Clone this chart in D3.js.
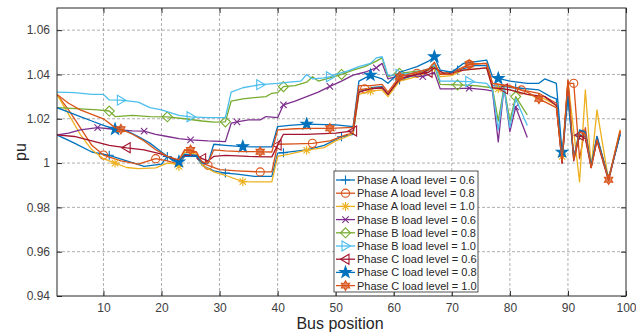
<!DOCTYPE html>
<html>
<head>
<meta charset="utf-8">
<script src="https://cdn.jsdelivr.net/npm/d3@7"></script>
<style>
body { margin: 0; background: #fff; }
svg { display: block; font-family: "Liberation Sans", Arial, Helvetica, sans-serif; }
</style>
</head>
<body>
<svg id="chart" width="636" height="335"></svg>
<script>
const xTicks = [10, 20, 30, 40, 50, 60, 70, 80, 90, 100];
const yTicks = [0.94, 0.96, 0.98, 1.00, 1.02, 1.04, 1.06];

const legendLabels = [
  "Phase A load level = 0.6", "Phase A load level = 0.8", "Phase A load level = 1.0",
  "Phase B load level = 0.6", "Phase B load level = 0.8", "Phase B load level = 1.0",
  "Phase C load level = 0.6", "Phase C load level = 0.8", "Phase C load level = 1.0"
];

// phase A
const busA06 = [2,5,8,11,14,17,20,21,23,24,26,27,29,31,33,36,39,40,41,45,48,51,53,54,56,58,59,61,64,66,67,68,71,74,76,77,81,85,87,88,89,90,91,92,93,94,95,97,99];
const puA06 = [1.0127,1.009,1.005,1.0035,1.001,0.9985,0.9995,1.003,1.000,1.003,1.003,0.999,0.9965,0.9955,0.995,0.994,0.994,1.0045,1.0047,1.006,1.008,1.0119,1.013,1.032,1.034,1.0345,1.031,1.0375,1.040,1.042,1.0445,1.040,1.042,1.044,1.044,1.035,1.034,1.033,1.030,1.029,1.002,1.030,1.003,1.0126,1.012,0.999,1.011,0.993,1.013];
const markA06 = [11,21,31,41,51,61,71,81,92];

const busA08 = [2,4,6,8,10,13,16,19,21,23,24,26,27,28,30,33,37,39,40,43,46,49,52,53,54,55,58,59,61,64,66,67,68,70,73,76,77,80,82,85,88,89,90,91,92,93,94,95,97,99];
const puA08 = [1.031,1.024,1.016,1.008,1.0036,1.001,0.9995,1.002,1.001,0.9995,1.006,1.005,1.000,0.999,0.997,0.9965,0.996,0.996,1.0085,1.0087,1.0089,1.010,1.013,1.0135,1.033,1.0335,1.034,1.031,1.038,1.0405,1.042,1.045,1.0405,1.041,1.0446,1.045,1.036,1.035,1.033,1.0315,1.027,1.000,1.036,1.036,1.002,1.016,0.998,1.012,0.993,1.015];
const markA08 = [10,19,28,37,46,55,64,73,82,91];

const busA10 = [2,4,6,8,10,12,14,16,19,21,22,23,24,26,27,29,31,34,36,39,40,42,45,48,50,52,53,54,56,58,59,61,64,66,67,68,70,72,76,77,78,80,83,86,88,89,90,92,93,94,95,97,99];
const puA10 = [1.031,1.022,1.013,1.006,1.002,1.000,0.998,0.9975,0.9978,1.000,0.9998,0.9985,1.005,1.004,0.999,0.996,0.9945,0.9916,0.9915,0.9915,1.003,1.004,1.0058,1.007,1.010,1.012,1.0135,1.031,1.0325,1.033,1.030,1.037,1.039,1.041,1.043,1.039,1.0395,1.042,1.043,1.034,1.0335,1.033,1.031,1.029,1.026,1.003,1.037,0.9915,1.033,0.998,1.024,0.9923,1.015];
const markA10 = [12,23,34,45,56,67,78,89];

// phase B
const busB06 = [2,4,6,9,11,13,15,17,19,21,23,25,28,31,32,33,35,37,38,40,41,43,45,47,49,51,53,55,57,58,59,61,63,65,67,68,70,73,76,77,78,79,80,81,83];
const puB06 = [1.0127,1.0135,1.015,1.016,1.0155,1.015,1.0145,1.0144,1.013,1.012,1.011,1.0105,1.010,1.0097,1.018,1.0186,1.0195,1.0195,1.021,1.0205,1.0263,1.028,1.030,1.032,1.0346,1.037,1.0397,1.041,1.043,1.045,1.038,1.0395,1.0395,1.039,1.041,1.0335,1.0335,1.0338,1.033,1.0325,1.0096,1.0345,1.0142,1.0253,1.0115];
const markB06 = [9,17,25,33,41,49,57,65,73,81];

const busB08 = [2,6,9,11,12,15,18,21,24,27,29,31,32,34,36,38,39,40,41,43,45,46,47,49,51,53,55,57,58,59,61,64,66,67,68,71,74,77,78,79,80,81,83];
const puB08 = [1.025,1.0245,1.024,1.0235,1.021,1.0215,1.021,1.0209,1.020,1.019,1.0185,1.0186,1.028,1.029,1.0295,1.030,1.0315,1.0318,1.0345,1.035,1.0365,1.039,1.037,1.0385,1.040,1.042,1.0435,1.046,1.0475,1.039,1.0405,1.0415,1.042,1.044,1.0355,1.0353,1.035,1.034,1.019,1.0345,1.019,1.030,1.0217];
const markB08 = [11,21,31,41,51,61,71,81];

const busB10 = [2,5,8,10,11,13,16,18,20,23,25,28,31,32,34,37,40,42,44,45,46,48,49,50,52,54,56,57,58,59,61,63,66,67,68,70,73,76,77,78,79,80,81,83];
const puB10 = [1.032,1.0318,1.031,1.031,1.0285,1.0284,1.0275,1.025,1.024,1.0215,1.0209,1.0205,1.0205,1.032,1.034,1.0354,1.036,1.0365,1.037,1.040,1.038,1.0385,1.039,1.040,1.0415,1.0435,1.045,1.0475,1.048,1.0395,1.040,1.0405,1.0425,1.0445,1.037,1.037,1.0368,1.036,1.033,1.015,1.034,1.016,1.029,1.017];
const markB10 = [13,25,37,49,61,73];

// phase C
const busC06 = [2,5,8,11,14,17,20,22,23,24,26,27,28,29,31,35,39,40,41,45,50,53,54,56,58,59,61,64,66,67,69,72,76,77,79,80,83,86,88,89,90,91,92,93,94,95,97,99];
const puC06 = [1.0127,1.012,1.010,1.008,1.0069,1.006,1.004,1.002,1.001,1.0035,1.0035,1.002,1.001,1.003,1.0035,1.003,1.0028,1.0081,1.013,1.013,1.0135,1.0145,1.032,1.0335,1.034,1.031,1.038,1.040,1.041,1.043,1.040,1.042,1.043,1.034,1.0335,1.033,1.031,1.030,1.026,1.000,1.037,1.001,1.0126,1.011,0.998,1.010,0.992,1.014];
const markC06 = [14,27,40,53,66,79,92];

const busC08 = [2,4,6,8,10,12,14,16,18,20,22,23,24,26,27,28,29,31,34,37,39,40,42,45,50,53,54,56,58,59,61,64,66,67,68,70,72,76,77,78,80,83,85,86,88,89,90,91,92,93,94,95,97,99];
const puC08 = [1.025,1.023,1.021,1.019,1.017,1.0153,1.0145,1.012,1.009,1.005,1.001,1.0006,1.004,1.0035,1.000,1.000,1.0085,1.008,1.0074,1.0073,1.0073,1.0165,1.017,1.0176,1.0172,1.0165,1.037,1.0397,1.038,1.036,1.041,1.0435,1.046,1.048,1.042,1.041,1.045,1.0465,1.039,1.0382,1.037,1.036,1.036,1.038,1.036,1.005,1.030,1.002,1.015,1.014,0.999,1.012,0.993,1.013];
const markC08 = [12,23,34,45,56,67,78,89];

const busC10 = [2,4,6,8,10,12,13,15,17,19,21,23,24,25,26,27,28,29,31,34,37,39,40,43,46,49,52,53,54,56,58,59,61,64,66,67,68,70,73,76,77,80,83,85,88,89,90,91,92,93,94,95,97,99];
const puC10 = [1.031,1.027,1.024,1.022,1.020,1.016,1.0153,1.013,1.010,1.006,1.003,1.0015,1.006,1.0059,1.005,1.0005,1.000,1.006,1.0055,1.0052,1.0051,1.005,1.015,1.0155,1.0157,1.0157,1.016,1.016,1.035,1.035,1.0355,1.032,1.039,1.041,1.0425,1.0455,1.040,1.040,1.0446,1.045,1.036,1.0345,1.032,1.029,1.025,1.001,1.0375,1.0015,1.014,1.013,0.998,1.0105,0.9925,1.0145];
const markC10 = [13,25,37,49,61,73,85,97];

const series = [
  {bus: busA06, pu: puA06, marks: markA06, color: "#0072BD", marker: "plus"},
  {bus: busA08, pu: puA08, marks: markA08, color: "#D95319", marker: "circle"},
  {bus: busA10, pu: puA10, marks: markA10, color: "#EDB120", marker: "asterisk"},
  {bus: busB06, pu: puB06, marks: markB06, color: "#7E2F8E", marker: "x"},
  {bus: busB08, pu: puB08, marks: markB08, color: "#77AC30", marker: "diamond"},
  {bus: busB10, pu: puB10, marks: markB10, color: "#4DBEEE", marker: "right"},
  {bus: busC06, pu: puC06, marks: markC06, color: "#A2142F", marker: "left"},
  {bus: busC08, pu: puC08, marks: markC08, color: "#0072BD", marker: "pentagram"},
  {bus: busC10, pu: puC10, marks: markC10, color: "#D95319", marker: "hexagram"}
].map((s, i) => ({...s, name: legendLabels[i]}));

const W = 636, H = 335;
const m = {left: 57, right: 10, top: 8, bottom: 39};

const svg = d3.select("#chart");

const x = d3.scaleLinear().domain([2, 100]).range([m.left, W - m.right]);
const y = d3.scaleLinear().domain([0.94, 1.07]).range([H - m.bottom, m.top]);

const fmtY = d => String(+d.toFixed(2));

// grid
const grid = svg.append("g")
  .attr("stroke", "#9a9a9a")
  .attr("stroke-width", 0.8)
  .attr("stroke-dasharray", "3,2");

grid.selectAll("line.v").data(xTicks.filter(d => d < 100)).join("line")
  .attr("class", "v")
  .attr("x1", d => x(d)).attr("x2", d => x(d))
  .attr("y1", m.top).attr("y2", H - m.bottom);

grid.selectAll("line.h").data(yTicks.filter(d => d > 0.94)).join("line")
  .attr("class", "h")
  .attr("x1", m.left).attr("x2", W - m.right)
  .attr("y1", d => y(d)).attr("y2", d => y(d));

svg.append("clipPath").attr("id", "clip")
  .append("rect")
  .attr("x", m.left).attr("y", m.top)
  .attr("width", W - m.left - m.right).attr("height", H - m.top - m.bottom);

function star(n, R, r) {
  const pts = [];
  for (let k = 0; k < n * 2; k++) {
    const a = -Math.PI / 2 + k * Math.PI / n;
    const rad = k % 2 === 0 ? R : r;
    pts.push([rad * Math.cos(a), rad * Math.sin(a)]);
  }
  return "M" + pts.map(p => p[0].toFixed(2) + "," + p[1].toFixed(2)).join("L") + "Z";
}

function markerPath(type) {
  switch (type) {
    case "plus": return "M-4.5,0H4.5M0,-4.5V4.5";
    case "x": return "M-3.2,-3.2L3.2,3.2M-3.2,3.2L3.2,-3.2";
    case "asterisk": return "M-4.5,0H4.5M0,-4.5V4.5M-3.2,-3.2L3.2,3.2M-3.2,3.2L3.2,-3.2";
    case "circle": return d3.symbol(d3.symbolCircle, 52)();
    case "diamond": return "M0,-5L5,0L0,5L-5,0Z";
    case "right": return "M5,0L-3.5,-5L-3.5,5Z";
    case "left": return "M-5,0L3.5,-5L3.5,5Z";
    case "pentagram": return star(5, 6, 2.4);
    case "hexagram": return star(6, 4.8, 2.8);
  }
}

const filled = t => t === "pentagram" || t === "hexagram";

const line = d3.line().x(d => x(d[0])).y(d => y(d[1]));

const plot = svg.append("g").attr("clip-path", "url(#clip)");

series.forEach(s => {
  const pts = d3.zip(s.bus, s.pu);
  plot.append("path")
    .datum(pts)
    .attr("fill", "none")
    .attr("stroke", s.color)
    .attr("stroke-width", 1.3)
    .attr("stroke-linejoin", "round")
    .attr("d", line);

  const mk = s.marks.map(b => [b, s.pu[s.bus.indexOf(b)]]);
  plot.selectAll(null).data(mk).join("path")
    .attr("transform", d => `translate(${x(d[0])},${y(d[1])})`)
    .attr("d", markerPath(s.marker))
    .attr("fill", filled(s.marker) ? s.color : "none")
    .attr("fill-opacity", s.marker === "hexagram" ? 0.7 : 1)
    .attr("stroke", s.color)
    .attr("stroke-width", 1.1);
});

// axes
const axisColor = "#262626";

const gx = svg.append("g")
  .attr("transform", `translate(0,${H - m.bottom})`)
  .call(d3.axisBottom(x).tickValues(xTicks).tickSizeInner(-5).tickSizeOuter(0).tickPadding(7));

const gy = svg.append("g")
  .attr("transform", `translate(${m.left},0)`)
  .call(d3.axisLeft(y).tickValues(yTicks).tickFormat(fmtY).tickSizeInner(-5).tickSizeOuter(0).tickPadding(7));

const gxt = svg.append("g")
  .attr("transform", `translate(0,${m.top})`)
  .call(d3.axisTop(x).tickValues(xTicks).tickFormat("").tickSizeInner(-5).tickSizeOuter(0));

const gyr = svg.append("g")
  .attr("transform", `translate(${W - m.right},0)`)
  .call(d3.axisRight(y).tickValues(yTicks).tickFormat("").tickSizeInner(-5).tickSizeOuter(0));

[gx, gy, gxt, gyr].forEach(g => {
  g.select(".domain").remove();
  g.selectAll("line").attr("stroke", axisColor);
  g.selectAll("text").attr("fill", "#404040").style("font-size", "12px")
    .style("font-family", "'Liberation Sans', Arial, sans-serif");
});

svg.append("rect")
  .attr("x", m.left).attr("y", m.top)
  .attr("width", W - m.left - m.right).attr("height", H - m.top - m.bottom)
  .attr("fill", "none")
  .attr("stroke", axisColor)
  .attr("stroke-width", 1);

svg.append("text")
  .attr("x", 340)
  .attr("y", 329)
  .attr("text-anchor", "middle")
  .attr("fill", "#262626")
  .style("font-size", "16px")
  .text("Bus position");

svg.append("text")
  .attr("transform", `translate(26,${(m.top + H - m.bottom) / 2}) rotate(-90)`)
  .attr("text-anchor", "middle")
  .attr("fill", "#262626")
  .style("font-size", "16px")
  .text("pu");

// legend
const lg = svg.append("g");
lg.append("rect")
  .attr("x", 334).attr("y", 171)
  .attr("width", 144).attr("height", 121)
  .attr("fill", "#fff")
  .attr("stroke", axisColor)
  .attr("stroke-width", 0.8);

const rows = lg.selectAll("g.row").data(series).join("g")
  .attr("class", "row")
  .attr("transform", (d, i) => `translate(0,${180 + i * 13.2})`);

rows.append("line")
  .attr("x1", 336).attr("x2", 355)
  .attr("stroke", d => d.color)
  .attr("stroke-width", 1.3);

rows.append("path")
  .attr("transform", "translate(345.5,0)")
  .attr("d", d => markerPath(d.marker))
  .attr("fill", d => filled(d.marker) ? d.color : "none")
  .attr("fill-opacity", d => d.marker === "hexagram" ? 0.7 : 1)
  .attr("stroke", d => d.color)
  .attr("stroke-width", 1.1);

rows.append("text")
  .attr("x", 357)
  .attr("dy", "0.36em")
  .attr("fill", "#262626")
  .style("font-size", "11px")
  .text(d => d.name);
</script>
</body>
</html>
